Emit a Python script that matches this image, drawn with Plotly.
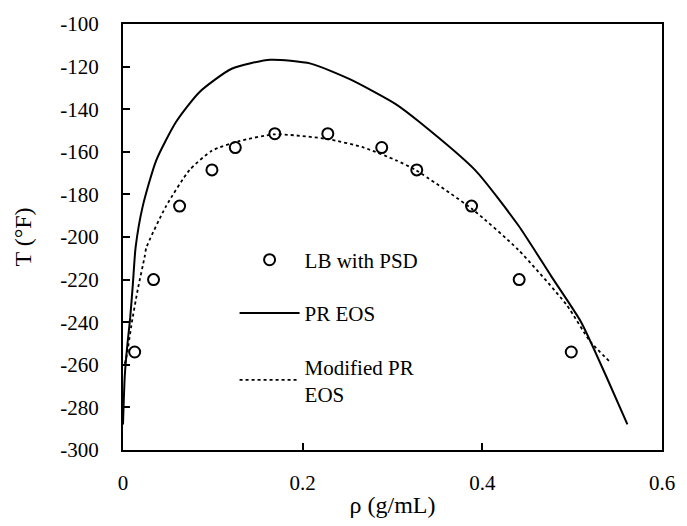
import plotly.graph_objects as go

# LB with PSD (circles)
lb_rho = [0.013, 0.034, 0.063, 0.099, 0.125, 0.169, 0.228, 0.288, 0.327, 0.388, 0.441, 0.499]
lb_T = [-254, -220, -185.5, -168.5, -158, -151.5, -151.5, -158, -168.5, -185.5, -220, -254]

# PR EOS (solid)
pr_rho = [0.0, 0.002, 0.005, 0.008, 0.011, 0.014, 0.022, 0.037, 0.059, 0.085, 0.121, 0.164,
          0.209, 0.253, 0.304, 0.33, 0.392, 0.44, 0.477, 0.51, 0.538, 0.5615]
pr_T = [-288, -265, -250, -238, -222, -205, -185.5, -164, -146, -132, -121, -116.8,
        -118.6, -126, -137.7, -146, -168.6, -194.5, -218.6, -240, -265.5, -288]

# Modified PR EOS (dotted)
mpr_rho = [0.002, 0.0044, 0.0099, 0.0165, 0.024, 0.026, 0.048, 0.074, 0.099, 0.129, 0.169,
           0.2275, 0.268, 0.304, 0.326, 0.389, 0.44, 0.494, 0.52, 0.543]
mpr_T = [-259.5, -255, -240, -224.5, -209.5, -205, -185.5, -168.6, -159.5, -155, -151.8,
         -154, -158, -164, -168.6, -187, -206, -232, -249, -259]

x_ticks = [0, 0.2, 0.4, 0.6]
x_ticklabels = ["0", "0.2", "0.4", "0.6"]
y_ticks = [-300, -280, -260, -240, -220, -200, -180, -160, -140, -120, -100]
y_ticklabels = ["-300", "-280", "-260", "-240", "-220", "-200", "-180", "-160", "-140", "-120", "-100"]

FONT = "Liberation Serif"

fig = go.Figure()
fig.add_trace(go.Scatter(
    x=lb_rho, y=lb_T, mode="markers", name="LB with PSD", legendgroup="a",
    marker=dict(symbol="circle-open", size=11, color="black", line=dict(width=2, color="black")),
))
fig.add_trace(go.Scatter(
    x=pr_rho, y=pr_T, mode="lines", name="PR EOS", legendgroup="b",
    line=dict(color="black", width=2, shape="spline", smoothing=0.6),
))
fig.add_trace(go.Scatter(
    x=mpr_rho, y=mpr_T, mode="lines", name="Modified PR<br>EOS", legendgroup="c",
    line=dict(color="black", width=1.8, dash="dot", shape="spline", smoothing=0.6),
))

fig.update_layout(
    width=687, height=526,
    margin=dict(l=123, r=19, t=19, b=67),
    paper_bgcolor="white", plot_bgcolor="white",
    font=dict(family=FONT, size=21, color="black"),
    showlegend=True,
    legend=dict(
        x=0.207, y=0.494, xanchor="left", yanchor="top",
        bgcolor="rgba(0,0,0,0)", font=dict(family=FONT, size=21, color="black"),
        itemwidth=60, tracegroupgap=23, traceorder="grouped",
    ),
    xaxis=dict(
        range=[0, 0.6], tickvals=x_ticks, ticktext=x_ticklabels,
        showgrid=False, zeroline=False, showline=True, linecolor="black", linewidth=2,
        mirror=True, ticks="inside", ticklen=7, tickwidth=2, tickcolor="black",
        ticklabelstandoff=13,
        title=dict(text="ρ (g/mL)", font=dict(family=FONT, size=24), standoff=2),
    ),
    yaxis=dict(
        range=[-300, -100], tickvals=y_ticks, ticktext=y_ticklabels,
        showgrid=False, zeroline=False, showline=True, linecolor="black", linewidth=2,
        mirror=True, ticks="inside", ticklen=7, tickwidth=2, tickcolor="black",
        ticklabelstandoff=18,
        title=dict(text="T (°F)", font=dict(family=FONT, size=24), standoff=22),
    ),
)

fig.write_html("out.html")
